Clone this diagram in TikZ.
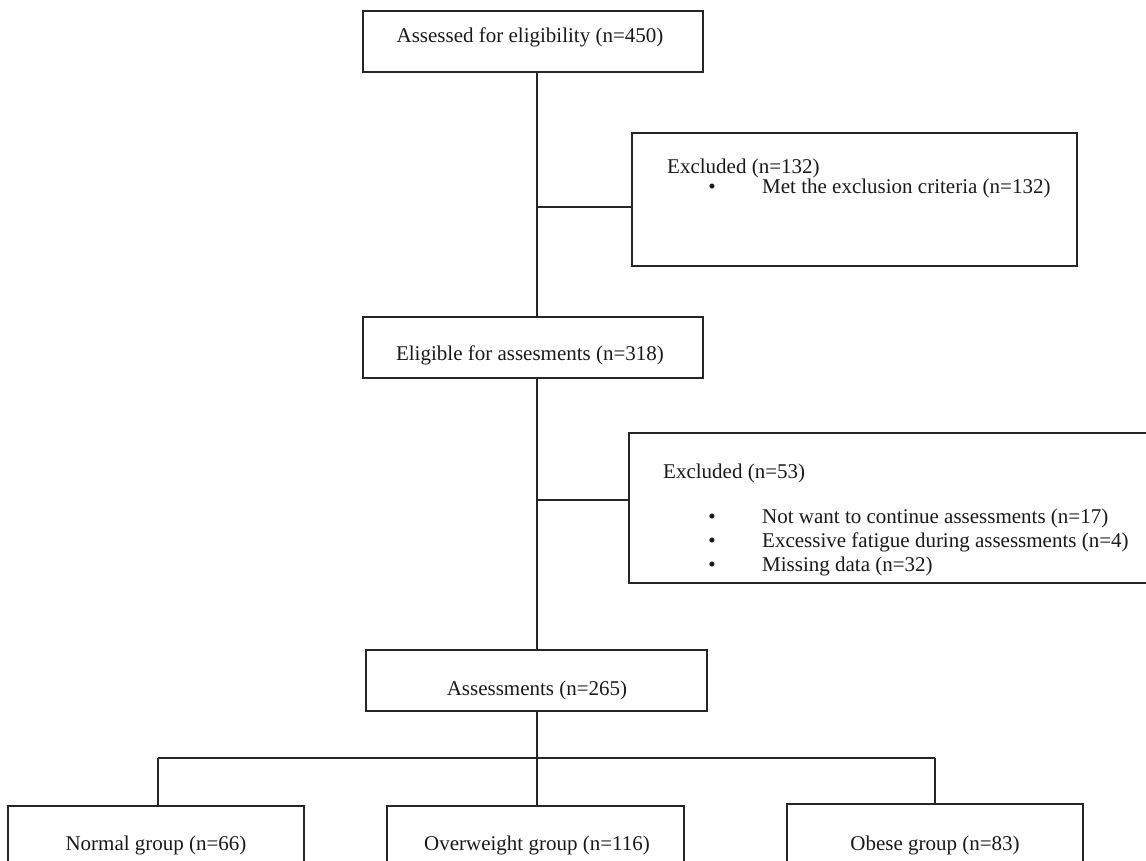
\documentclass[tikz,border=0pt]{standalone}
\usepackage{fontspec}
\setmainfont{Liberation Serif}
\begin{document}
\begin{tikzpicture}[x=1pt,y=-1pt,
  box/.style={draw=black!85, line width=1.3pt, rectangle, inner sep=0pt, outer sep=0pt, anchor=north west},
  txt/.style={font=\fontsize{21}{26}\selectfont, inner sep=0pt, text=black!90},
  conn/.style={draw=black!85, line width=1.3pt}]
\useasboundingbox (0,0) rectangle (1146,861);
\clip (0,0) rectangle (1146,861);
% boxes
\node[box, minimum width=340pt, minimum height=61pt] (top) at (363,11) {};
\node[box, minimum width=445pt, minimum height=133pt] (ex1) at (632,133) {};
\node[box, minimum width=340pt, minimum height=61pt] (elig) at (363,317) {};
\node[box, minimum width=530pt, minimum height=150pt] (ex2) at (629,433) {};
\node[box, minimum width=341pt, minimum height=61pt] (assess) at (366,650) {};
\node[box, minimum width=296pt, minimum height=90pt] (normal) at (8,806) {};
\node[box, minimum width=297pt, minimum height=90pt] (over) at (387,806) {};
\node[box, minimum width=296pt, minimum height=90pt] (obese) at (787,804) {};
% spine coordinates
\coordinate (spine) at (537,0);
\coordinate (j1) at (537,207);
\coordinate (j2) at (537,500);
\coordinate (split) at (537,758);
\coordinate (lx) at (158,0);
\coordinate (rx) at (935,0);
% connectors
\draw[conn] (spine |- top.south) -- (spine |- elig.north);
\draw[conn] (spine |- elig.south) -- (spine |- assess.north);
\draw[conn] (j1) -- (j1 -| ex1.west);
\draw[conn] (j2) -- (j2 -| ex2.west);
\draw[conn] (spine |- assess.south) -- (spine |- over.north);
\draw[conn] (lx |- split) -- (rx |- split);
\draw[conn] (lx |- split) -- (lx |- normal.north);
\draw[conn] (rx |- split) -- (rx |- obese.north);
% texts
\node[txt, anchor=base] (t1) at (530,43) {Assessed for eligibility (n=450)};
\node[txt, anchor=base west] (t2) at (667,174) {Excluded (n=132)};
\node[txt, anchor=base] (b1) at (712,194) {•};
\node[txt, anchor=base west] (t3) at (762,194) {Met the exclusion criteria (n=132)};
\node[txt, anchor=base] (t4) at (530,360) {Eligible for assesments (n=318)};
\node[txt, anchor=base west] (t5) at (663,478) {Excluded (n=53)};
\node[txt, anchor=base] (b2) at (712,523) {•};
\node[txt, anchor=base west] (t6) at (762,523) {Not want to continue assessments (n=17)};
\node[txt, anchor=base] (b3) at (712,547) {•};
\node[txt, anchor=base west] (t7) at (762,547) {Excessive fatigue during assessments (n=4)};
\node[txt, anchor=base] (b4) at (712,571) {•};
\node[txt, anchor=base west] (t8) at (762,571) {Missing data (n=32)};
\node[txt, anchor=base] (t9) at (537,695) {Assessments (n=265)};
\node[txt, anchor=base] (t10) at (156,850) {Normal group (n=66)};
\node[txt, anchor=base] (t11) at (537,850) {Overweight group (n=116)};
\node[txt, anchor=base] (t12) at (935,850) {Obese group (n=83)};
\end{tikzpicture}
\end{document}
